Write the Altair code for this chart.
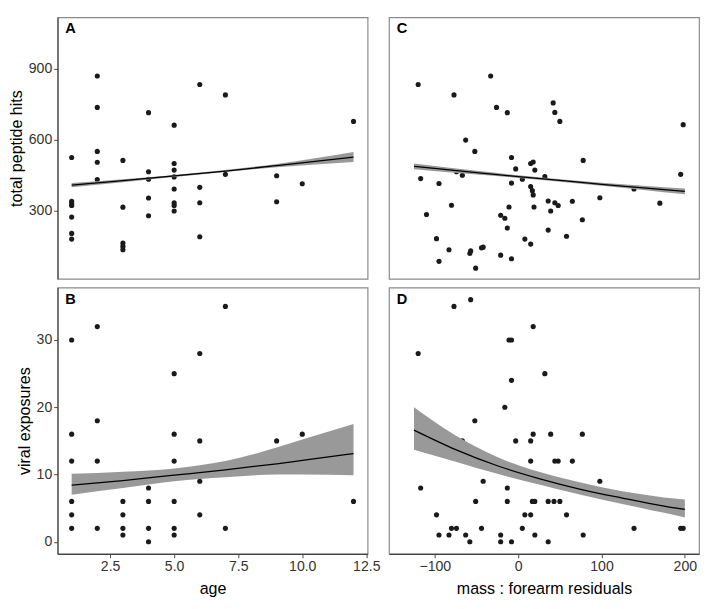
import altair as alt
import pandas as pd

FONT = "Liberation Sans"

# ---------------- Panel A: age vs total peptide hits ----------------
a_age = [1, 1, 1, 1, 1, 1, 1, 2, 2, 2, 2, 2, 3, 3, 3, 3, 3, 4, 4, 4, 4, 4,
         5, 5, 5, 5, 5, 5, 5, 5, 6, 6, 6, 6, 7, 7, 9, 9, 10, 12]
a_hits = [525, 340, 330, 322, 273, 204, 180, 870, 737, 551, 505, 432,
          513, 315, 163, 149, 135, 715, 465, 433, 354, 279,
          662, 500, 472, 443, 392, 333, 322, 299, 834, 399, 334, 190,
          790, 454, 448, 338, 414, 678]
a_fit_x = [1, 3, 5, 7, 9, 12]
a_fit = [408, 427, 447, 468, 491, 527]
a_lo = [399, 421, 443, 464, 484, 506]
a_hi = [417, 433, 451, 472, 498, 549]

# ---------------- Panel B: age vs viral exposures ----------------
b_age = [1, 1, 1, 1, 1, 1, 2, 2, 2, 2, 3, 3, 3, 3, 4, 4, 4, 4, 4,
         5, 5, 5, 5, 5, 5, 6, 6, 6, 6, 7, 7, 9, 9, 10, 12]
b_exp = [30, 16, 12, 6, 4, 2, 32, 18, 12, 2, 6, 4, 2, 1, 9, 8, 6, 2, 0,
         25, 16, 12, 6, 2, 1, 28, 15, 9, 4, 35, 2, 15, 12, 16, 6]
b_fit_x = [1, 3, 5, 7, 9, 10, 12]
b_fit = [8.4, 9.1, 9.9, 10.7, 11.6, 12.1, 13.1]
b_lo = [7.0, 8.0, 9.0, 9.6, 10.0, 10.0, 9.9]
b_hi = [10.1, 10.4, 10.9, 12.0, 14.0, 15.2, 17.5]

# ---------------- Panel C: mass:forearm residuals vs peptide hits ----------------
c_res = [-120, -77, -33, -26, -13, 42, 44, 50, 198, -63, -52, -8, 15, 18, -3,
         20, 78, 32, 5, -8, -74, -67, -117, -95, 195, 15, 17, 18, 139, 98,
         170, 36, 44, 48, 65, 39, 19, -11, -80, -110, -21, -16, 77, -13, 36,
         58, -98, 8, 15, -83, -57, -58, -44, -42, -21, -8, -95, -51]
c_hits = [834, 790, 870, 737, 715, 756, 716, 678, 664, 599, 551, 525, 500, 506,
          477, 472, 513, 444, 433, 417, 465, 450, 436, 415, 454, 402, 385, 367,
          392, 355, 332, 341, 334, 322, 340, 299, 316, 316, 323, 284, 281, 268,
          262, 227, 218, 192, 182, 180, 159, 135, 130, 119, 143, 146, 112, 97,
          86, 57]
c_fit_x = [-125, -50, 0, 50, 100, 150, 200]
c_fit = [488, 461, 444, 428, 412, 397, 382]
c_lo = [476, 453, 439, 423, 406, 388, 370]
c_hi = [500, 469, 450, 433, 418, 406, 394]

# ---------------- Panel D: mass:forearm residuals vs viral exposures ----------------
d_res = [-57, -77, 18, -11, -8, -120, 32, -8, -16, -52, -95, 18, 39, 77,
         -110, -67, -3, 15, -33, -26, 15, 44, 48, 65, -42, 43, 98, -117, -13,
         -51, -13, 17, 20, 36, 43, 50, 170, -98, 8, 15, 58, -80, -74, -44, 5,
         139, 195, 198, -95, -83, -63, -21, 20, 78, -58, -21, -8, 36]
d_exp = [36, 35, 32, 30, 30, 28, 25, 24, 20, 18, 16, 16, 16, 16,
         15, 15, 15, 15, 12, 12, 12, 12, 12, 12, 9, 9, 9, 8, 8,
         6, 6, 6, 6, 6, 6, 6, 6, 4, 4, 4, 4, 2, 2, 2, 2,
         2, 2, 2, 1, 1, 1, 1, 1, 1, 0, 0, 0, 0]
d_fit_x = [-125, -75, -25, 25, 75, 125, 175, 200]
d_fit = [16.6, 13.7, 11.3, 9.4, 7.8, 6.5, 5.3, 4.8]
d_lo = [13.7, 11.9, 10.1, 8.5, 7.0, 5.6, 4.3, 3.6]
d_hi = [20.0, 15.8, 12.6, 10.4, 8.8, 7.5, 6.6, 6.3]

# axis tick labels
age_ticks = [2.5, 5.0, 7.5, 10.0, 12.5]
res_ticks = [-100, 0, 100, 200]
hits_ticks = [300, 600, 900]
exp_ticks = [0, 10, 20, 30]

AGE_DOM = [0.45, 12.55]
RES_DOM = [-155, 217]
HITS_DOM = [12, 1118]
EXP_DOM = [-1.8, 37.8]

W = 319
H_TOP, H_BOT = 269, 274


def panel(px, py, fx, fy, flo, fhi, xdom, ydom, xaxis, yaxis, label, h, ly):
    pts = pd.DataFrame({"x": px, "y": py})
    fit = pd.DataFrame({"x": fx, "fit": fy, "lo": flo, "hi": fhi})
    xs = alt.Scale(domain=xdom, nice=False, zero=False)
    ys = alt.Scale(domain=ydom, nice=False, zero=False)
    points = alt.Chart(pts).mark_circle(size=28, color="#1a1a1a", opacity=1).encode(
        x=alt.X("x:Q", scale=xs, axis=xaxis),
        y=alt.Y("y:Q", scale=ys, axis=yaxis),
    )
    band = alt.Chart(fit).mark_area(color="#999999", opacity=1,
                                    interpolate="monotone").encode(
        x=alt.X("x:Q", scale=xs, axis=xaxis),
        y=alt.Y("lo:Q", scale=ys, axis=yaxis),
        y2="hi:Q",
    )
    line = alt.Chart(fit).mark_line(color="black", strokeWidth=1.3,
                                    interpolate="monotone").encode(
        x=alt.X("x:Q", scale=xs, axis=xaxis),
        y=alt.Y("fit:Q", scale=ys, axis=yaxis),
    )
    lab = alt.Chart(pd.DataFrame({"t": [label]})).mark_text(
        align="left", baseline="alphabetic", font=FONT, fontSize=15,
        fontWeight="bold", color="black"
    ).encode(x=alt.value(8), y=alt.value(ly), text="t:N")
    return alt.layer(points, band, line, lab).properties(width=W, height=h)


def xax(vals, fmt, title):
    return alt.Axis(values=vals, format=fmt, title=title, labelFlush=False,
                    labelOverlap=False)


def yax(vals, title):
    return alt.Axis(values=vals, format="d", title=title, labelOverlap=False)


pA = panel(a_age, a_hits, a_fit_x, a_fit, a_lo, a_hi, AGE_DOM, HITS_DOM,
           None, yax(hits_ticks, "total peptide hits"), "A", H_TOP, 16)
pC = panel(c_res, c_hits, c_fit_x, c_fit, c_lo, c_hi, RES_DOM, HITS_DOM,
           None, None, "C", H_TOP, 16)
pB = panel(b_age, b_exp, b_fit_x, b_fit, b_lo, b_hi, AGE_DOM, EXP_DOM,
           xax(age_ticks, ".1f", "age"), yax(exp_ticks, "viral exposures"), "B",
           H_BOT, 17)
pD = panel(d_res, d_exp, d_fit_x, d_fit, d_lo, d_hi, RES_DOM, EXP_DOM,
           xax(res_ticks, "d", "mass : forearm residuals"), None, "D", H_BOT, 17)

chart = alt.concat(pA, pC, pB, pD, columns=2, spacing=7).properties(
    padding={"left": 0, "top": 0, "right": 0, "bottom": 0}
).configure_view(
    stroke="#8a8a8a", strokeWidth=1.2
).configure_axis(
    grid=False,
    domainColor="#444444",
    domainWidth=1.2,
    tickColor="#444444",
    tickSize=4,
    labelFont=FONT,
    labelFontSize=14.5,
    labelColor="#333333",
    labelPadding=2,
    titleFont=FONT,
    titleFontSize=16.5,
    titleFontWeight="normal",
    titleColor="black",
).configure_axisY(
    titlePadding=4,
).configure_axisX(
    titlePadding=8,
)

chart.save("out.html", embed_options={"renderer": "svg", "actions": False})
